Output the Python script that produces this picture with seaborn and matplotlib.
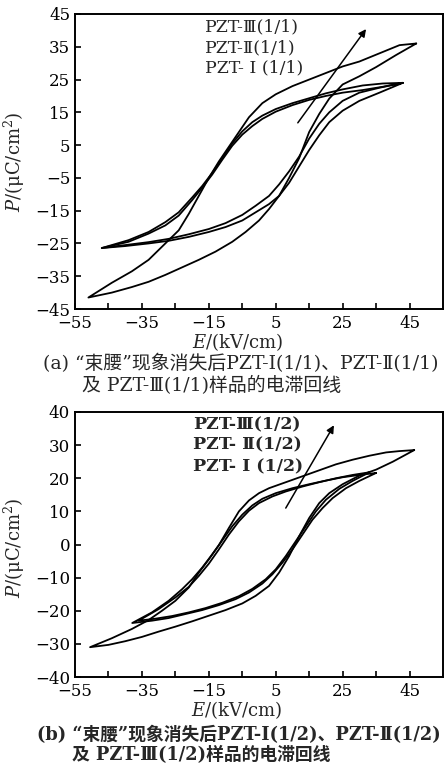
import numpy as np
import pandas as pd
import matplotlib
matplotlib.use("Agg")
import matplotlib.pyplot as plt
import seaborn as sns

# ---------------- data ----------------
# Panel (a): loops, each as descending branch (up) and ascending branch (dn)
a3_up_E = [47, 42, 36, 30, 25, 20, 15, 10, 5, 1, -3, -6, -9, -12, -15, -18, -21, -24, -28, -33, -38, -44, -51]
a3_up_P = [36, 35.5, 33, 30.5, 29, 27, 25, 23, 20.5, 17.8, 13.5, 9, 4.5, 0, -5, -10.5, -16, -21, -25, -30, -33.5, -37, -41.5]
a3_dn_E = [-51, -44, -38, -33, -28, -23, -18, -13, -8, -4, 0, 3, 6, 9, 12, 15, 18, 21, 25, 30, 35, 41, 47]
a3_dn_P = [-41.5, -40, -38.3, -36.7, -34.6, -32.3, -30, -27.5, -24.5, -21.5, -18, -14.5, -10.5, -5, 1, 9, 14.5, 19.2, 23.5, 26, 28.8, 32.5, 36]

a1_up_E = [43, 37, 31, 25, 20, 15, 10, 5, 1, -2, -5, -8, -11, -14, -17, -20, -24, -28, -33, -39, -47]
a1_up_P = [24, 23.8, 23.2, 22, 20.8, 19.3, 17.8, 16, 14, 12, 9.2, 5.5, 1, -3.5, -7.5, -11, -15.5, -18.5, -21.5, -24, -26.4]
a1_dn_E = [-47, -40, -33, -27, -21, -15, -10, -5, -1, 3, 6, 9, 12, 15, 18, 21, 25, 30, 36, 43]
a1_dn_P = [-26.4, -25.5, -24.6, -23.6, -22.2, -20.6, -18.8, -16.3, -13.5, -10.5, -7, -3, 1.5, 7, 11.5, 15, 18.5, 21, 22.5, 24]

a2_up_E = [43, 37, 31, 25, 20, 15, 10, 5, 1, -2, -5, -8, -11, -14, -17, -20, -24, -28, -33, -39, -47]
a2_up_P = [24, 22.8, 21.8, 21, 20, 18.8, 17.2, 15.2, 13, 10.8, 8.2, 4.8, 0.5, -4, -8, -11.8, -16.5, -19.5, -22, -24.5, -26.4]
a2_dn_E = [-47, -40, -33, -27, -21, -15, -10, -5, -1, 3, 6, 9, 12, 15, 18, 21, 25, 30, 36, 43]
a2_dn_P = [-26.4, -25.8, -25, -24.2, -23, -21.5, -20, -18, -15.5, -13, -10.5, -6.5, -1.5, 3.5, 8, 12, 15.5, 18.5, 21, 24]

# Panel (b)
b3_up_E = [46.4, 42, 38, 33, 28, 23, 18, 13, 8, 3, 0, -3, -6, -9, -12, -15, -18, -21, -25, -29, -33, -38, -44, -50.5]
b3_up_P = [28.5, 28.2, 27.8, 26.8, 25.6, 24.2, 22.4, 20.6, 18.8, 17, 15.5, 13.3, 10, 5, -0.2, -4.5, -8.5, -13, -17, -20, -22.8, -25.5, -28.3, -31]
b3_dn_E = [-50.5, -45, -40, -35, -30, -25, -20, -15, -10, -5, -1, 3, 6, 9, 12, 15, 18, 21, 25, 30, 35, 40, 46.4]
b3_dn_P = [-31, -30.3, -29.2, -27.9, -26.3, -24.8, -23.2, -21.5, -19.8, -17.8, -15.5, -12.5, -8.5, -3.5, 2.5, 8, 12.5, 15.5, 18.2, 20.8, 22.6, 25, 28.5]

b1_up_E = [35, 30, 25, 20, 15, 10, 5, 1, -2, -5, -8, -11, -14, -17, -20, -23, -27, -32, -37.9]
b1_up_P = [21.6, 21, 20.3, 19.3, 18.2, 17, 15.5, 13.8, 11.8, 9, 5.5, 1.2, -3, -7, -10.5, -13.5, -17, -20.5, -23.7]
b1_dn_E = [-37.9, -32, -27, -22, -17, -12, -7, -3, 1, 4, 7, 10, 13, 16, 19, 22, 26, 30, 35]
b1_dn_P = [-23.7, -23, -22.2, -21, -19.8, -18.3, -16.5, -14.5, -11.8, -9, -5.5, -1.5, 3, 7.5, 11, 14, 17, 19.2, 21.6]

b2_up_E = [33, 28, 23, 18, 13, 8, 4, 0, -3, -6, -9, -12, -15, -18, -21, -25, -30, -36]
b2_up_P = [21.8, 21, 20, 18.8, 17.5, 16, 14.5, 12.5, 10.2, 7, 3, -1.5, -5.8, -9.5, -12.8, -16, -19.5, -23]
b2_dn_E = [-36, -31, -26, -21, -16, -11, -6, -2, 2, 5, 8, 11, 14, 17, 20, 24, 28, 33]
b2_dn_P = [-23, -22.4, -21.6, -20.5, -19.2, -17.6, -15.6, -13.4, -10.5, -7.5, -3.5, 1, 5.5, 10, 13.5, 16.8, 19.2, 21.8]

# arrows (start -> end), data units
arrow_a = [(11.6, 11.8), (32.0, 40.4)]
arrow_b = [(8.0, 11.0), (22.4, 36.0)]

labels_a = ["PZT-Ⅲ(1/1)", "PZT-Ⅱ(1/1)", "PZT- Ⅰ (1/1)"]
labels_b = ["PZT-Ⅲ(1/2)", "PZT- Ⅱ(1/2)", "PZT- Ⅰ (1/2)"]

x_major = [-55, -35, -15, 5, 25, 45]
x_minor = [-45, -25, -5, 15, 35]
y_ticks_a = [45, 35, 25, 15, 5, -5, -15, -25, -35, -45]
y_ticks_b = [40, 30, 20, 10, 0, -10, -20, -30, -40]

caption_a = ["(a) “束腰”现象消失后PZT-Ⅰ(1/1)、PZT-Ⅱ(1/1)", "及 PZT-Ⅲ(1/1)样品的电滞回线"]
caption_b = ["(b) “束腰”现象消失后PZT-Ⅰ(1/2)、PZT-Ⅱ(1/2)", "及 PZT-Ⅲ(1/2)样品的电滞回线"]

# ---------------- style ----------------
sns.set_style("ticks")
plt.rcParams['font.family'] = ['DejaVu Serif', 'Noto Sans CJK SC']
plt.rcParams['mathtext.fontset'] = 'dejavuserif'
plt.rcParams['axes.unicode_minus'] = True

FAM = ['DejaVu Serif', 'Noto Sans CJK SC']

W, H = 445, 764
fig = plt.figure(figsize=(W / 100, H / 100), dpi=100)


def px_axes(left, top, right, bottom):
    return fig.add_axes([left / W, 1 - bottom / H, (right - left) / W, (bottom - top) / H])


def loop_frame(up_E, up_P, dn_E, dn_P, name):
    E = list(up_E) + list(dn_E)
    P = list(up_P) + list(dn_P)
    return pd.DataFrame({"E": E, "P": P, "sample": name})


def style_axes(ax, ylim, yticks):
    ax.set_xlim(-55, 55)
    ax.set_ylim(*ylim)
    ax.set_xticks(x_major)
    ax.set_xticklabels([str(v) if v >= 0 else "\u2212" + str(-v) for v in x_major])
    ax.set_xticks(x_minor, minor=True)
    ax.set_yticks(yticks)
    ax.set_yticklabels([str(v) if v >= 0 else "\u2212" + str(-v) for v in yticks])
    for s in ax.spines.values():
        s.set_linewidth(1.4)
        s.set_color('black')
    ax.tick_params(axis='both', which='both', direction='in', length=4, width=1.2,
                   top=False, right=False, labelsize=12, pad=3.5, colors='black')
    ax.tick_params(axis='x', which='both', pad=4)
    for t in ax.get_xticklabels() + ax.get_yticklabels():
        t.set_family(FAM)
    ax.set_facecolor('white')


def draw_panel(ax, frames, arrow, labels, label_pos, bold=False):
    for df in frames:
        sns.lineplot(data=df, x="E", y="P", sort=False, estimator=None,
                     color='black', linewidth=1.3, ax=ax, legend=False)
    ax.annotate('', xy=arrow[1], xytext=arrow[0],
                arrowprops=dict(arrowstyle='-|>', color='black', lw=1.1,
                                mutation_scale=11, shrinkA=0, shrinkB=0))
    x0, ys = label_pos
    for lab, y in zip(labels, ys):
        ax.text(x0, y, lab, fontsize=12.5, family=FAM, va='center', ha='left',
                fontweight='bold' if bold else 'normal')
    ax.set_xlabel(r'$\mathit{E}$/(kV/cm)', fontsize=13)
    ax.set_ylabel(r'$\mathit{P}$/(μC/cm$^{2}$)', fontsize=13)


# panel (a)
ax1 = px_axes(75, 14, 443, 309)
frames_a = [loop_frame(a3_up_E, a3_up_P, a3_dn_E, a3_dn_P, "PZT-III"),
            loop_frame(a2_up_E, a2_up_P, a2_dn_E, a2_dn_P, "PZT-II"),
            loop_frame(a1_up_E, a1_up_P, a1_dn_E, a1_dn_P, "PZT-I")]
draw_panel(ax1, frames_a, arrow_a, labels_a, (-16, [41, 34.6, 28.5]))
style_axes(ax1, (-45, 45), y_ticks_a)
ax1.xaxis.set_label_coords(0.443, -0.075)
ax1.xaxis.label.set_va('top')
ax1.yaxis.set_label_coords(-0.13, 0.5)

# panel (b)
ax2 = px_axes(75, 412, 443, 677)
frames_b = [loop_frame(b3_up_E, b3_up_P, b3_dn_E, b3_dn_P, "PZT-III"),
            loop_frame(b2_up_E, b2_up_P, b2_dn_E, b2_dn_P, "PZT-II"),
            loop_frame(b1_up_E, b1_up_P, b1_dn_E, b1_dn_P, "PZT-I")]
draw_panel(ax2, frames_b, arrow_b, labels_b, (-19.6, [36.1, 30.0, 23.4]), bold=True)
style_axes(ax2, (-40, 40), y_ticks_b)
ax2.xaxis.set_label_coords(0.44, -0.083)
ax2.xaxis.label.set_va('top')
ax2.yaxis.set_label_coords(-0.13, 0.487)

# captions
fig.text(43 / W, 1 - 363 / H, caption_a[0], fontsize=13.6, family=FAM, va='center', ha='left')
fig.text(82 / W, 1 - 386 / H, caption_a[1], fontsize=13.6, family=FAM, va='center', ha='left')
fig.text(37 / W, 1 - 735 / H, caption_b[0], fontsize=12.8, family=FAM, va='center', ha='left',
         fontweight='bold')
fig.text(72 / W, 1 - 755 / H, caption_b[1], fontsize=12.8, family=FAM, va='center', ha='left',
         fontweight='bold')

fig.savefig("out.png", dpi=100, facecolor='white')
